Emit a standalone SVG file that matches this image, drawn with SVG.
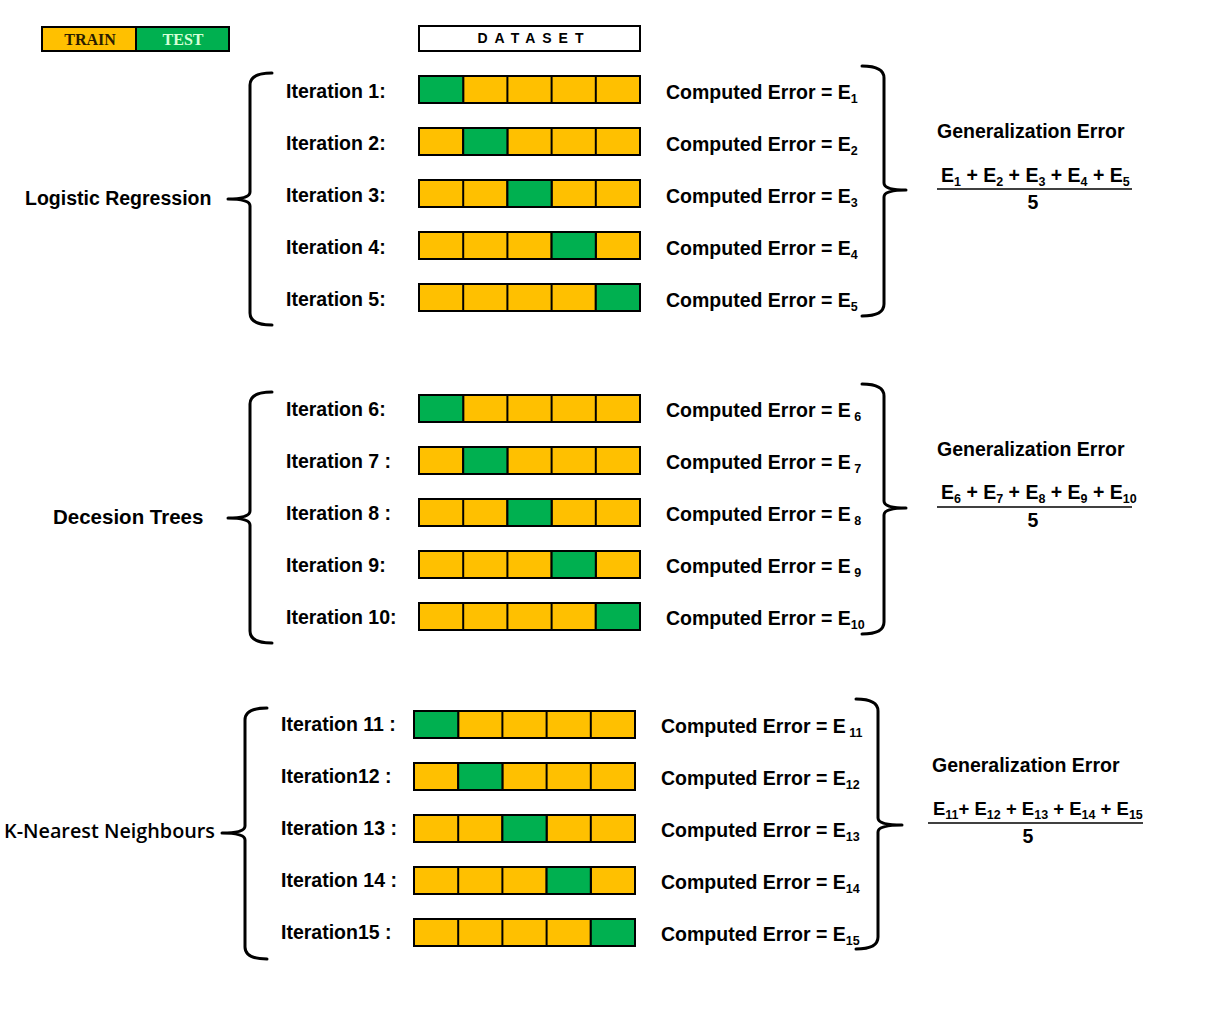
<svg xmlns="http://www.w3.org/2000/svg" width="1224" height="1022" viewBox="0 0 1224 1022">
<style>
.t{font-family:"Liberation Sans",Arial,sans-serif;font-weight:bold;font-size:19.5px;fill:#000}
.s{font-size:12.5px}
.tr{fill:#FFC000;stroke:#000;stroke-width:2}
.te{fill:#00B050;stroke:#000;stroke-width:2}
.br{fill:none;stroke:#000;stroke-width:3;stroke-linejoin:round;stroke-linecap:round}
.ln{stroke:#000;stroke-width:1.5}
</style>
<defs>
<g id="bar">
<rect x="0" y="0" width="221" height="27" class="tr"/>
<line x1="44.2" y1="0" x2="44.2" y2="27" stroke="#000" stroke-width="2"/>
<line x1="88.4" y1="0" x2="88.4" y2="27" stroke="#000" stroke-width="2"/>
<line x1="132.6" y1="0" x2="132.6" y2="27" stroke="#000" stroke-width="2"/>
<line x1="176.8" y1="0" x2="176.8" y2="27" stroke="#000" stroke-width="2"/>
</g>
</defs>
<rect width="1224" height="1022" fill="#fff"/>

<g id="legend">
<rect x="42" y="27" width="94" height="24" fill="#FFC000" stroke="#000" stroke-width="2"/>
<rect x="136" y="27" width="93" height="24" fill="#00B050" stroke="#000" stroke-width="2"/>
<text x="90" y="45" text-anchor="middle" font-family="'Liberation Serif',serif" font-weight="bold" font-size="16" fill="#2a1d00">TRAIN</text>
<text x="183" y="45" text-anchor="middle" font-family="'Liberation Serif',serif" font-weight="bold" font-size="16" fill="#d8ffd8">TEST</text>
</g>

<g id="dataset">
<rect x="419" y="26" width="221" height="25" fill="#fff" stroke="#000" stroke-width="2"/>
<text x="534" y="43" text-anchor="middle" class="t" letter-spacing="7" style="font-size:14px">DATASET</text>
</g>

<!-- Section 1 -->
<g id="lr">
<text x="25" y="205" class="t">Logistic Regression</text>
</g>
<g id="s1-rows">
<g id="it1"><text x="286" y="98" class="t">Iteration 1:</text><use href="#bar" x="419" y="76"/><rect x="419" y="76" width="44.2" height="27" class="te"/><text x="666" y="99" class="t">Computed Error = E<tspan class="s" dy="4">1</tspan></text></g>
<g id="it2"><text x="286" y="150" class="t">Iteration 2:</text><use href="#bar" x="419" y="128"/><rect x="463.2" y="128" width="44.2" height="27" class="te"/><text x="666" y="151" class="t">Computed Error = E<tspan class="s" dy="4">2</tspan></text></g>
<g id="it3"><text x="286" y="202" class="t">Iteration 3:</text><use href="#bar" x="419" y="180"/><rect x="507.4" y="180" width="44.2" height="27" class="te"/><text x="666" y="203" class="t">Computed Error = E<tspan class="s" dy="4">3</tspan></text></g>
<g id="it4"><text x="286" y="254" class="t">Iteration 4:</text><use href="#bar" x="419" y="232"/><rect x="551.6" y="232" width="44.2" height="27" class="te"/><text x="666" y="255" class="t">Computed Error = E<tspan class="s" dy="4">4</tspan></text></g>
<g id="it5"><text x="286" y="306" class="t">Iteration 5:</text><use href="#bar" x="419" y="284"/><rect x="595.8" y="284" width="44.2" height="27" class="te"/><text x="666" y="307" class="t">Computed Error = E<tspan class="s" dy="4">5</tspan></text></g>
</g>
<g id="gen1">
<text x="937" y="138" class="t">Generalization Error</text>
<text x="941" y="182" class="t">E<tspan class="s" dy="4">1</tspan><tspan dy="-4"> + E</tspan><tspan class="s" dy="4">2</tspan><tspan dy="-4"> + E</tspan><tspan class="s" dy="4">3</tspan><tspan dy="-4"> + E</tspan><tspan class="s" dy="4">4</tspan><tspan dy="-4"> + E</tspan><tspan class="s" dy="4">5</tspan></text>
<line x1="937" y1="189" x2="1132" y2="189" class="ln"/>
<text x="1033" y="209" text-anchor="middle" class="t">5</text>
</g>

<!-- Section 2 -->
<g id="dt">
<text x="53" y="524" class="t" style="font-size:20.5px">Decesion Trees</text>
</g>
<g id="s2-rows">
<g id="it6"><text x="286" y="416" class="t">Iteration 6:</text><use href="#bar" x="419" y="395"/><rect x="419" y="395" width="44.2" height="27" class="te"/><text x="666" y="417" class="t">Computed Error = E<tspan class="s" dy="4"> 6</tspan></text></g>
<g id="it7"><text x="286" y="468" class="t">Iteration 7 :</text><use href="#bar" x="419" y="447"/><rect x="463.2" y="447" width="44.2" height="27" class="te"/><text x="666" y="469" class="t">Computed Error = E<tspan class="s" dy="4"> 7</tspan></text></g>
<g id="it8"><text x="286" y="520" class="t">Iteration 8 :</text><use href="#bar" x="419" y="499"/><rect x="507.4" y="499" width="44.2" height="27" class="te"/><text x="666" y="521" class="t">Computed Error = E<tspan class="s" dy="4"> 8</tspan></text></g>
<g id="it9"><text x="286" y="572" class="t">Iteration 9:</text><use href="#bar" x="419" y="551"/><rect x="551.6" y="551" width="44.2" height="27" class="te"/><text x="666" y="573" class="t">Computed Error = E<tspan class="s" dy="4"> 9</tspan></text></g>
<g id="it10"><text x="286" y="624" class="t">Iteration 10:</text><use href="#bar" x="419" y="603"/><rect x="595.8" y="603" width="44.2" height="27" class="te"/><text x="666" y="625" class="t">Computed Error = E<tspan class="s" dy="4">10</tspan></text></g>
</g>
<g id="gen2">
<text x="937" y="456" class="t">Generalization Error</text>
<text x="941" y="499" class="t">E<tspan class="s" dy="4">6</tspan><tspan dy="-4"> + E</tspan><tspan class="s" dy="4">7</tspan><tspan dy="-4"> + E</tspan><tspan class="s" dy="4">8</tspan><tspan dy="-4"> + E</tspan><tspan class="s" dy="4">9</tspan><tspan dy="-4"> + E</tspan><tspan class="s" dy="4">10</tspan></text>
<line x1="937" y1="507" x2="1132" y2="507" class="ln"/>
<text x="1033" y="527" text-anchor="middle" class="t">5</text>
</g>

<!-- Section 3 -->
<g id="knn">
<text x="4" y="838" font-family="'Open Sans','Noto Sans',sans-serif" font-weight="600" font-size="19.5" textLength="211" lengthAdjust="spacingAndGlyphs">K-Nearest Neighbours</text>
</g>
<g id="s3-rows">
<g id="it11"><text x="281" y="731" class="t">Iteration 11 :</text><use href="#bar" x="414" y="711"/><rect x="414" y="711" width="44.2" height="27" class="te"/><text x="661" y="733" class="t">Computed Error = E<tspan class="s" dy="4"> 11</tspan></text></g>
<g id="it12"><text x="281" y="783" class="t">Iteration12 :</text><use href="#bar" x="414" y="763"/><rect x="458.2" y="763" width="44.2" height="27" class="te"/><text x="661" y="785" class="t">Computed Error = E<tspan class="s" dy="4">12</tspan></text></g>
<g id="it13"><text x="281" y="835" class="t">Iteration 13 :</text><use href="#bar" x="414" y="815"/><rect x="502.4" y="815" width="44.2" height="27" class="te"/><text x="661" y="837" class="t">Computed Error = E<tspan class="s" dy="4">13</tspan></text></g>
<g id="it14"><text x="281" y="887" class="t">Iteration 14 :</text><use href="#bar" x="414" y="867"/><rect x="546.6" y="867" width="44.2" height="27" class="te"/><text x="661" y="889" class="t">Computed Error = E<tspan class="s" dy="4">14</tspan></text></g>
<g id="it15"><text x="281" y="939" class="t">Iteration15 :</text><use href="#bar" x="414" y="919"/><rect x="590.8" y="919" width="44.2" height="27" class="te"/><text x="661" y="941" class="t">Computed Error = E<tspan class="s" dy="4">15</tspan></text></g>
</g>
<g id="gen3">
<text x="932" y="772" class="t">Generalization Error</text>
<text x="933" y="815" class="t" style="font-size:18.5px">E<tspan class="s" dy="4">11</tspan><tspan dy="-4">+ E</tspan><tspan class="s" dy="4">12</tspan><tspan dy="-4"> + E</tspan><tspan class="s" dy="4">13</tspan><tspan dy="-4"> + E</tspan><tspan class="s" dy="4">14</tspan><tspan dy="-4"> + E</tspan><tspan class="s" dy="4">15</tspan></text>
<line x1="928" y1="823" x2="1143" y2="823" class="ln"/>
<text x="1028" y="843" text-anchor="middle" class="t">5</text>
</g>

<g id="connectors">
<path class="br" d="M272,73 Q250,73 250,85 L250,192 Q250,199 228,199 Q250,199 250,206 L250,313 Q250,325 272,325"/>
<path class="br" d="M862,66 Q884,66 884,78 L884,183 Q884,190 906,190 Q884,190 884,197 L884,304 Q884,316 862,316"/>
<path class="br" d="M272,392 Q250,392 250,404 L250,511 Q250,518 228,518 Q250,518 250,525 L250,631 Q250,643 272,643"/>
<path class="br" d="M862,384 Q884,384 884,396 L884,501 Q884,508 906,508 Q884,508 884,515 L884,622 Q884,634 862,634"/>
<path class="br" d="M267,708 Q245,708 245,720 L245,826 Q245,833 222,833 Q245,833 245,840 L245,947 Q245,959 267,959"/>
<path class="br" d="M856,699 Q878,699 878,711 L878,818 Q878,825 902,825 Q878,825 878,832 L878,937 Q878,949 856,949"/>
</g>
</svg>
